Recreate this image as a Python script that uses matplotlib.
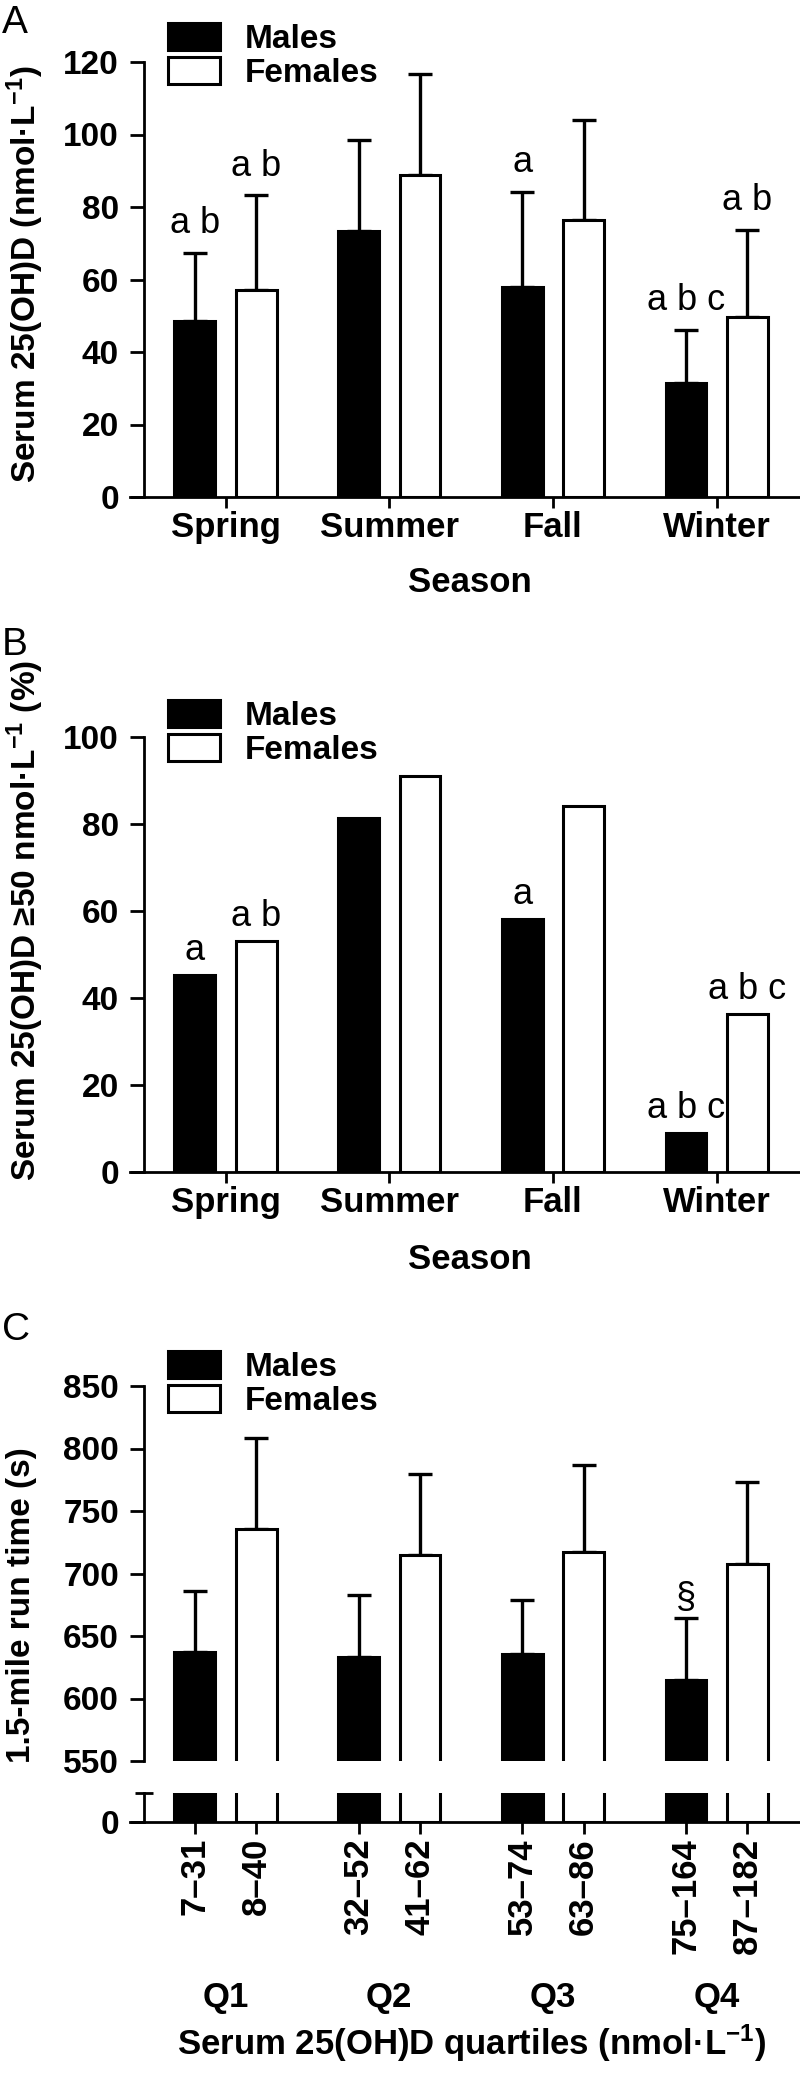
import numpy as np
import matplotlib
matplotlib.use('Agg')
import matplotlib.pyplot as plt
from matplotlib.patches import Patch

# ---- data ----
seasons = ['Spring', 'Summer', 'Fall', 'Winter']

# A: serum 25(OH)D, mean + SD
a_male = [48.5, 73.5, 57.9, 31.5]
a_male_sd = [18.9, 25.1, 26.3, 14.6]
a_female = [57.2, 88.8, 76.4, 49.7]
a_female_sd = [26.0, 28.0, 27.6, 24.0]
a_male_sig = ['a b', '', 'a', 'a b c']
a_female_sig = ['a b', '', '', 'a b']

# B: % with serum 25(OH)D >= 50
b_male = [45.2, 81.4, 58.1, 9.0]
b_female = [53.1, 91.0, 84.2, 36.3]
b_male_sig = ['a', '', 'a', 'a b c']
b_female_sig = ['a b', '', '', 'a b c']

# C: 1.5-mile run time by quartile
quartiles = ['Q1', 'Q2', 'Q3', 'Q4']
c_male_range = ['7–31', '32–52', '53–74', '75–164']
c_female_range = ['8–40', '41–62', '63–86', '87–182']
c_male = [637.0, 632.9, 635.8, 614.8]
c_male_sd = [48.7, 49.9, 42.9, 49.9]
c_female = [736.0, 715.0, 717.5, 707.6]
c_female_sd = [72.7, 64.8, 69.3, 66.0]
c_male_sig = ['', '', '', '§']

# ---- style ----
plt.rcParams['font.family'] = ['Liberation Sans', 'DejaVu Sans']
plt.rcParams['font.weight'] = 'bold'
plt.rcParams['axes.labelweight'] = 'bold'
plt.rcParams['mathtext.fontset'] = 'custom'
plt.rcParams['mathtext.bf'] = 'Liberation Sans:bold'
plt.rcParams['mathtext.rm'] = 'Liberation Sans:bold'
plt.rcParams['mathtext.default'] = 'bf'
plt.rcParams['axes.linewidth'] = 2.0

W, H = 800, 2077
fig = plt.figure(figsize=(W / 100, H / 100), dpi=100)


def rect(left, top, right, bottom):
    return [left / W, 1 - bottom / H, (right - left) / W, (bottom - top) / H]


x = np.arange(4)
off = 0.1875
bw = 0.25
XLIM = (-0.584, 3.503)
YSPINE = -0.498
TICKFS = 24
LW = 2.2


def base_axes(r):
    ax = fig.add_axes(r)
    ax.set_xlim(*XLIM)
    ax.spines['top'].set_visible(False)
    ax.spines['right'].set_visible(False)
    ax.spines['left'].set_position(('data', YSPINE))
    ax.tick_params(axis='y', direction='out', length=10, width=2, pad=8, labelsize=TICKFS)
    ax.tick_params(axis='x', direction='out', length=8, width=2, pad=2, labelsize=25)
    return ax


def bars(ax, male, female):
    ax.bar(x - off, male, width=bw, color='black', edgecolor='black', linewidth=LW, zorder=2)
    ax.bar(x + off, female, width=bw, color='white', edgecolor='black', linewidth=LW, zorder=2)


def errs(ax, xs, mean, sd):
    ax.errorbar(xs, mean, yerr=[np.zeros(len(sd)), sd], fmt='none', ecolor='black',
                elinewidth=2.4, capsize=8.3, capthick=2.4, zorder=1)


def sig(ax, xs, tops, labels, dy):
    for xi, t, s in zip(xs, tops, labels):
        if s:
            ax.annotate(s, (xi, t), xytext=(0, dy), textcoords='offset points',
                        ha='center', va='baseline', fontsize=26, fontweight='normal')


def legend(ax, top_px):
    handles = [Patch(facecolor='black', edgecolor='black', linewidth=LW),
               Patch(facecolor='white', edgecolor='black', linewidth=LW)]
    ax.legend(handles, ['Males', 'Females'], loc='upper left',
              bbox_to_anchor=(168 / W, 1 - top_px / H), bbox_transform=fig.transFigure,
              frameon=False, borderpad=0, borderaxespad=0, handlelength=1.56,
              handleheight=0.87, handletextpad=0.75, labelspacing=0.05, fontsize=24)


# ---- panel A ----
axA = base_axes(rect(130, 62, 799, 497))
bars(axA, a_male, a_female)
errs(axA, x - off, a_male, a_male_sd)
errs(axA, x + off, a_female, a_female_sd)
sig(axA, x - off, np.add(a_male, a_male_sd), a_male_sig, 14)
sig(axA, x + off, np.add(a_female, a_female_sd), a_female_sig, 14)
axA.set_ylim(0, 120)
axA.set_yticks(np.arange(0, 121, 20))
axA.set_xticks(x)
axA.set_xticklabels(seasons)
axA.set_xlabel('Season', fontsize=25, fontweight='bold')
axA.xaxis.set_label_coords(0.508, -0.159)
legend(axA, 23)
fig.text(25 / W, 1 - 274 / H, 'Serum 25(OH)D (nmol·L$^{-1}$)', rotation=90,
         ha='center', va='center', fontsize=24)
fig.text(2 / W, 1 - 33 / H, 'A', fontsize=28, fontweight='normal', va='baseline')

# ---- panel B ----
axB = base_axes(rect(130, 737, 799, 1172))
bars(axB, b_male, b_female)
sig(axB, x - off, b_male, b_male_sig, 11)
sig(axB, x + off, b_female, b_female_sig, 11)
axB.set_ylim(0, 100)
axB.set_yticks(np.arange(0, 101, 20))
axB.set_xticks(x)
axB.set_xticklabels(seasons)
axB.set_xlabel('Season', fontsize=25, fontweight='bold')
axB.xaxis.set_label_coords(0.508, -0.163)
legend(axB, 700)
fig.text(25 / W, 1 - 920 / H, 'Serum 25(OH)D ≥50 nmol·L$^{-1}$ (%)', rotation=90,
         ha='center', va='center', fontsize=24)
fig.text(2 / W, 1 - 655 / H, 'B', fontsize=28, fontweight='normal', va='baseline')

# ---- panel C (broken y axis) ----
axC = base_axes(rect(130, 1386, 799, 1761))
bars(axC, c_male, c_female)
errs(axC, x - off, c_male, c_male_sd)
errs(axC, x + off, c_female, c_female_sd)
sig(axC, x - off, np.add(c_male, c_male_sd), c_male_sig, 7)
axC.set_ylim(550, 850)
axC.set_yticks(np.arange(550, 851, 50))
axC.set_yticks([550], minor=True)
axC.tick_params(axis='y', which='minor', direction='in', length=6.5, width=2)
axC.spines['bottom'].set_visible(False)
axC.tick_params(axis='x', bottom=False, labelbottom=False)
legend(axC, 1351)

axC2 = base_axes(rect(130, 1793, 799, 1822))
bars(axC2, c_male, c_female)
axC2.set_ylim(0, 25)
axC2.set_yticks([0])
axC2.set_yticks([25], minor=True)
axC2.tick_params(axis='y', which='minor', direction='inout', length=13, width=2)
pos = np.ravel(np.column_stack([x - off, x + off]))
labs = np.ravel(np.column_stack([c_male_range, c_female_range]))
axC2.set_xticks(pos)
axC2.set_xticklabels(labs, rotation=90, fontsize=25)
axC2.tick_params(axis='x', length=8.6, pad=3)
for xi, q in zip(x, quartiles):
    axC2.text(xi, -6.38, q, transform=axC2.get_xaxis_transform(), ha='center',
              va='baseline', fontsize=25)
axC2.set_xlabel('Serum 25(OH)D quartiles (nmol·L$^{-1}$)', fontsize=25, fontweight='bold')
axC2.xaxis.set_label_coords(0.511, -6.9)
fig.text(22 / W, 1 - 1605 / H, '1.5-mile run time (s)', rotation=90,
         ha='center', va='center', fontsize=24)
fig.text(2 / W, 1 - 1340 / H, 'C', fontsize=28, fontweight='normal', va='baseline')

fig.savefig('out.png', dpi=100)
